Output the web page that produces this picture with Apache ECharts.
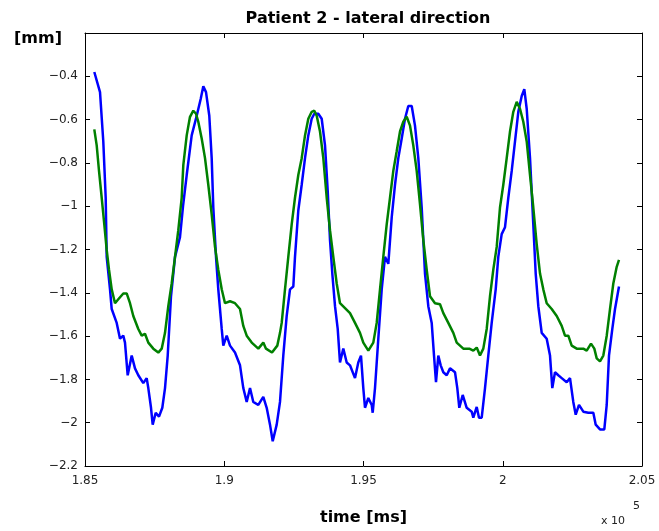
<!DOCTYPE html>
<html>
<head>
<meta charset="utf-8">
<script src="https://cdn.jsdelivr.net/npm/echarts@6/dist/echarts.min.js"></script>
<style>
html,body{margin:0;padding:0;background:#fff;}
#chart{width:659px;height:531px;}
</style>
</head>
<body>
<div id="chart"></div>
<script>
var titleText = 'Patient 2 - lateral direction';
var yUnit = '[mm]';
var xName = 'time [ms]';
var xTicks = [185000, 190000, 195000, 200000, 205000];

var blueTime = [185334,185539,185657,185743,185779,185898,185959,186138,186257,186375,186436,186533,186677,186795,186914,187093,187215,187273,187370,187431,187539,187657,187776,187873,187970,188088,188232,188411,188520,188652,188831,189011,189154,189248,189345,189463,189549,189607,189704,189786,189909,189966,190088,190207,190386,190566,190684,190806,190925,191043,191223,191402,191524,191643,191740,191883,192002,192120,192242,192361,192480,192540,192659,192781,192900,193018,193140,193234,193377,193499,193618,193715,193797,193880,193977,194074,194156,194275,194397,194515,194695,194813,194910,194993,195054,195173,195295,195330,195413,195532,195654,195772,195891,196013,196131,196250,196372,196490,196609,196731,196849,196968,197090,197208,197327,197449,197532,197603,197686,197772,197866,197988,198106,198286,198368,198440,198562,198706,198885,198943,199065,199147,199244,199363,199481,199603,199747,199840,199962,200081,200200,200322,200440,200559,200681,200774,200860,200979,201097,201183,201277,201399,201578,201697,201779,201876,201995,202117,202296,202415,202533,202620,202738,202893,203072,203252,203338,203492,203647,203733,203815,203934,204031,204174];
var blueMM = [-0.380,-0.473,-0.701,-0.961,-1.234,-1.384,-1.475,-1.539,-1.612,-1.598,-1.630,-1.781,-1.690,-1.749,-1.781,-1.817,-1.794,-1.840,-1.931,-2.009,-1.954,-1.972,-1.931,-1.840,-1.690,-1.416,-1.234,-1.143,-1.000,-0.856,-0.673,-0.582,-0.505,-0.446,-0.473,-0.582,-0.778,-1.006,-1.234,-1.384,-1.567,-1.644,-1.598,-1.644,-1.676,-1.735,-1.840,-1.904,-1.840,-1.904,-1.918,-1.881,-1.931,-2.009,-2.086,-2.009,-1.904,-1.690,-1.507,-1.384,-1.371,-1.234,-1.020,-0.901,-0.778,-0.673,-0.596,-0.573,-0.573,-0.596,-0.719,-0.929,-1.156,-1.311,-1.462,-1.567,-1.722,-1.658,-1.722,-1.735,-1.794,-1.722,-1.690,-1.840,-1.931,-1.886,-1.918,-1.954,-1.840,-1.612,-1.384,-1.234,-1.266,-1.052,-0.901,-0.778,-0.687,-0.596,-0.537,-0.537,-0.628,-0.778,-1.006,-1.311,-1.462,-1.539,-1.690,-1.813,-1.690,-1.735,-1.767,-1.781,-1.749,-1.767,-1.840,-1.931,-1.872,-1.931,-1.949,-1.977,-1.927,-1.977,-1.977,-1.840,-1.690,-1.539,-1.384,-1.234,-1.129,-1.097,-0.961,-0.837,-0.701,-0.564,-0.491,-0.459,-0.550,-0.778,-1.084,-1.311,-1.462,-1.585,-1.612,-1.690,-1.840,-1.767,-1.781,-1.794,-1.813,-1.794,-1.904,-1.963,-1.918,-1.949,-1.954,-1.954,-2.009,-2.031,-2.031,-1.918,-1.690,-1.567,-1.475,-1.371];

var greenTime = [185334,185420,185503,185600,185693,185779,185862,185959,186077,186196,186375,186497,186616,186734,186914,187036,187154,187273,187452,187632,187754,187873,187991,188113,188232,188350,188472,188530,188652,188770,188889,188986,189068,189190,189309,189427,189549,189668,189786,189909,190027,190207,190386,190566,190684,190806,190986,191223,191402,191499,191715,191905,192002,192063,192181,192300,192422,192540,192659,192781,192900,193018,193140,193234,193320,193438,193557,193679,193797,193916,194038,194156,194336,194515,194695,194874,194993,195173,195352,195474,195593,195711,195833,195952,196070,196192,196311,196429,196551,196670,196788,196910,197029,197147,197269,197388,197567,197747,197866,198045,198225,198347,198584,198799,198943,199065,199183,199302,199424,199542,199661,199783,199901,200020,200142,200261,200379,200501,200619,200738,200860,200979,201097,201219,201338,201456,201578,201758,201938,202117,202235,202354,202476,202655,202893,203015,203169,203288,203374,203492,203611,203733,203851,203970,204092,204174];
var greenMM = [-0.645,-0.719,-0.837,-0.961,-1.084,-1.202,-1.293,-1.384,-1.448,-1.430,-1.403,-1.403,-1.448,-1.507,-1.567,-1.598,-1.589,-1.630,-1.658,-1.676,-1.658,-1.585,-1.462,-1.357,-1.234,-1.111,-0.961,-0.810,-0.673,-0.587,-0.559,-0.573,-0.610,-0.687,-0.778,-0.901,-1.038,-1.188,-1.293,-1.384,-1.448,-1.439,-1.448,-1.475,-1.553,-1.598,-1.630,-1.658,-1.630,-1.658,-1.676,-1.644,-1.585,-1.539,-1.384,-1.234,-1.084,-0.961,-0.856,-0.778,-0.673,-0.596,-0.564,-0.559,-0.582,-0.655,-0.778,-0.961,-1.111,-1.234,-1.357,-1.448,-1.471,-1.494,-1.539,-1.585,-1.630,-1.667,-1.630,-1.539,-1.384,-1.234,-1.084,-0.961,-0.837,-0.746,-0.655,-0.610,-0.587,-0.628,-0.719,-0.837,-0.992,-1.156,-1.293,-1.416,-1.448,-1.453,-1.494,-1.539,-1.585,-1.630,-1.658,-1.658,-1.667,-1.653,-1.690,-1.658,-1.567,-1.416,-1.293,-1.188,-1.006,-0.901,-0.778,-0.655,-0.564,-0.518,-0.550,-0.610,-0.701,-0.856,-1.006,-1.175,-1.311,-1.384,-1.448,-1.475,-1.507,-1.553,-1.598,-1.598,-1.644,-1.658,-1.658,-1.667,-1.635,-1.658,-1.703,-1.717,-1.690,-1.598,-1.475,-1.357,-1.280,-1.248];

function pairs(t, v) { return t.map(function (x, i) { return [x, v[i]]; }); }

var FONT = 'DejaVu Sans';
var labelStyle = { fontFamily: FONT, fontSize: 12, color: '#222' };

function fmtY(v) {
  if (v > -0.3) return '';
  var r = Math.round(v * 10) / 10;
  return String(r).replace('-', '\u2212');
}
function fmtX(v) {
  return String(Math.round(v / 1e5 * 100) / 100);
}

var chart = echarts.init(document.getElementById('chart'));
chart.setOption({
  animation: false,
  backgroundColor: '#fff',
  title: {
    text: titleText, left: 363, top: 6, textAlign: 'center',
    textStyle: { fontFamily: FONT, fontSize: 16, fontWeight: 'bold', color: '#000' }
  },
  grid: { left: 85, right: 17, top: 33, bottom: 59 },
  xAxis: [{
    type: 'value', min: 185000, max: 205000, interval: 5000, position: 'bottom',
    axisLine: { show: true, onZero: false, lineStyle: { color: '#000', width: 1 } },
    axisTick: { show: true, inside: true, length: 5, lineStyle: { color: '#000' } },
    axisLabel: Object.assign({ formatter: fmtX, margin: 9 }, labelStyle),
    splitLine: { show: false },
    name: xName, nameLocation: 'middle', nameGap: 44,
    nameTextStyle: { fontFamily: FONT, fontSize: 16, fontWeight: 'bold', color: '#000' }
  }, {
    type: 'value', min: 185000, max: 205000, interval: 5000, position: 'top',
    axisLine: { show: true, onZero: false, lineStyle: { color: '#000', width: 1 } },
    axisTick: { show: true, inside: true, length: 5, lineStyle: { color: '#000' } },
    axisLabel: { show: false }, splitLine: { show: false }
  }],
  yAxis: [{
    type: 'value', min: -2.2, max: -0.2, interval: 0.2, position: 'left',
    axisLine: { show: true, onZero: false, lineStyle: { color: '#000', width: 1 } },
    axisTick: { show: true, inside: true, length: 5, lineStyle: { color: '#000' } },
    axisLabel: Object.assign({ formatter: fmtY, margin: 7 }, labelStyle),
    splitLine: { show: false }
  }, {
    type: 'value', min: -2.2, max: -0.2, interval: 0.2, position: 'right',
    axisLine: { show: true, onZero: false, lineStyle: { color: '#000', width: 1 } },
    axisTick: { show: true, inside: true, length: 5, lineStyle: { color: '#000' } },
    axisLabel: { show: false }, splitLine: { show: false }
  }],
  graphic: [
    { type: 'text', left: 14, top: 31, style: { text: yUnit, font: 'bold 16px "DejaVu Sans"', fill: '#000' } },
    { type: 'text', left: 601, top: 516, style: { text: 'x 10', font: '11px "DejaVu Sans"', fill: '#222' } },
    { type: 'text', left: 633, top: 501, style: { text: '5', font: '11px "DejaVu Sans"', fill: '#222' } }
  ],
  series: [{
    type: 'line', name: 'blue', data: pairs(blueTime, blueMM), showSymbol: false,
    lineStyle: { color: '#0000ff', width: 2.5 }, itemStyle: { color: '#0000ff' }
  }, {
    type: 'line', name: 'green', data: pairs(greenTime, greenMM), showSymbol: false,
    lineStyle: { color: '#008000', width: 2.5 }, itemStyle: { color: '#008000' }
  }]
});
</script>
</body>
</html>
